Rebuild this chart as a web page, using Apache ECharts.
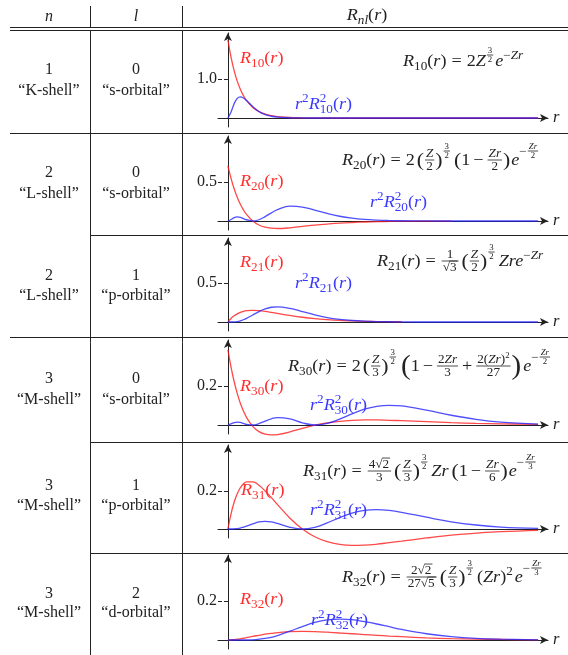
<!DOCTYPE html>
<html>
<head>
<meta charset="utf-8">
<script src="https://cdn.jsdelivr.net/npm/echarts@6/dist/echarts.min.js"></script>
<style>
  html, body { margin: 0; padding: 0; background: #fff; }
  #chart { width: 568px; height: 655px; }
</style>
</head>
<body>
<div id="chart"></div>
<script>
// Radial sample points (in Bohr radii) shared by every panel
const radius = [0, 0.25, 0.5, 0.75, 1, 1.25, 1.5, 2, 2.5, 3, 3.5, 4, 5, 6, 7, 8, 9, 10, 11, 12, 13, 14, 16, 18, 20, 22, 25];

// Radial wave functions R_nl(r) and radial densities r^2 R_nl^2(r)
const r10        = [2.000, 1.558, 1.213, 0.945, 0.736, 0.573, 0.446, 0.271, 0.164, 0.100, 0.060, 0.037, 0.013, 0.005, 0.002, 0.001, 0, 0, 0, 0, 0, 0, 0, 0, 0, 0, 0];
const r10Density = [0, 0.152, 0.368, 0.502, 0.541, 0.513, 0.448, 0.293, 0.168, 0.089, 0.045, 0.021, 0.005, 0.001, 0, 0, 0, 0, 0, 0, 0, 0, 0, 0, 0, 0, 0];

const r20        = [0.707, 0.546, 0.413, 0.304, 0.214, 0.142, 0.084, 0, -0.051, -0.079, -0.092, -0.096, -0.087, -0.070, -0.053, -0.039, -0.027, -0.019, -0.013, -0.009, -0.006, -0.004, -0.002, -0.001, null, null, null];
const r20Density = [0, 0.019, 0.043, 0.052, 0.046, 0.031, 0.016, 0, 0.016, 0.056, 0.104, 0.147, 0.190, 0.179, 0.140, 0.097, 0.061, 0.036, 0.020, 0.011, 0.006, 0.003, 0.001, 0, 0, 0, 0];

const r21        = [0, 0.045, 0.079, 0.105, 0.124, 0.137, 0.145, 0.150, 0.146, 0.137, 0.124, 0.110, 0.084, 0.061, 0.043, 0.030, 0.020, 0.014, 0.009, 0.006, 0.004, 0.003, null, null, null, null, null];
const r21Density = [0, 0, 0.002, 0.006, 0.015, 0.029, 0.047, 0.090, 0.134, 0.168, 0.189, 0.195, 0.175, 0.134, 0.091, 0.057, 0.034, 0.019, 0.010, 0.005, 0.003, 0.001, 0, 0, 0, 0, 0];

const r30        = [0.385, 0.297, 0.223, 0.162, 0.112, 0.072, 0.039, -0.007, -0.034, -0.047, -0.051, -0.049, -0.035, -0.017, -0.001, 0.011, 0.019, 0.024, 0.026, 0.026, 0.024, 0.022, 0.017, 0.012, 0.008, 0.006, 0.003];
const r30Density = [0, 0.006, 0.012, 0.015, 0.013, 0.008, 0.003, 0, 0.007, 0.020, 0.032, 0.038, 0.031, 0.011, 0, 0.008, 0.030, 0.057, 0.081, 0.096, 0.101, 0.098, 0.076, 0.050, 0.029, 0.015, 0.005];

const r31        = [0, 0.080, 0.141, 0.185, 0.217, 0.237, 0.248, 0.248, 0.230, 0.200, 0.165, 0.128, 0.057, 0, -0.041, -0.067, -0.081, -0.086, -0.085, -0.080, -0.072, -0.064, -0.047, -0.032, -0.022, -0.014, -0.007];
const r31Density = [0, 0, 0.001, 0.002, 0.005, 0.010, 0.015, 0.027, 0.037, 0.040, 0.037, 0.029, 0.009, 0, 0.009, 0.032, 0.060, 0.083, 0.098, 0.102, 0.098, 0.088, 0.062, 0.038, 0.021, 0.010, 0.003];

const r32        = [0, 0.001, 0.002, 0.004, 0.006, 0.009, 0.012, 0.019, 0.024, 0.030, 0.034, 0.038, 0.043, 0.044, 0.043, 0.040, 0.036, 0.032, 0.028, 0.024, 0.020, 0.017, 0.011, 0.007, 0.005, 0.003, 0.001];
const r32Density = [0, 0, 0, 0, 0, 0, 0, 0.001, 0.004, 0.008, 0.014, 0.023, 0.045, 0.069, 0.090, 0.103, 0.107, 0.104, 0.094, 0.082, 0.068, 0.054, 0.032, 0.017, 0.008, 0.004, 0.001];

// Table columns
const shellN      = ['1', '2', '2', '3', '3', '3'];
const shellName   = ['“K-shell”', '“L-shell”', '“L-shell”', '“M-shell”', '“M-shell”', '“M-shell”'];
const orbitalL    = ['0', '0', '1', '0', '1', '2'];
const orbitalName = ['“s-orbital”', '“s-orbital”', '“p-orbital”', '“s-orbital”', '“p-orbital”', '“d-orbital”'];
const subscripts  = ['10', '20', '21', '30', '31', '32'];
const tickValues  = [1.0, 0.5, 0.5, 0.2, 0.2, 0.2];

const curveSets = [[r10, r10Density], [r20, r20Density], [r21, r21Density],
                   [r30, r30Density], [r31, r31Density], [r32, r32Density]];

// ---------- layout & style ----------
const INK = '#222';
const RED = '#ff1a1a';
const BLUE = '#2323ff';
const RED_TEXT = '#ff2e2e';
const BLUE_TEXT = '#3a3aff';
const SERIF = '"Liberation Serif", "DejaVu Serif", serif';
const S = 16.5, SC = 12, SS = 8;
const HS = 1.1;          // horizontal stretch applied to math glyphs

// panel geometry: top of y-axis arrow, pixel row of r-axis, pixels per tick step
const panels = [
  { top: 33,  axisY: 118, tickPx: 39, textY: [70, 91],   formula: [403, 62],  redLabel: [240, 59],  blueLabel: [295, 105] },
  { top: 136, axisY: 221, tickPx: 39, textY: [173, 194], formula: [342, 161], redLabel: [240, 182], blueLabel: [370, 203] },
  { top: 238, axisY: 322, tickPx: 39, textY: [276, 296], formula: [377, 262], redLabel: [240, 263], blueLabel: [295, 284] },
  { top: 340, axisY: 425, tickPx: 39, textY: [379, 400], formula: [288, 367], redLabel: [240, 387], blueLabel: [310, 406] },
  { top: 445, axisY: 529, tickPx: 38, textY: [486, 506], formula: [303, 472], redLabel: [241, 491], blueLabel: [310, 511] },
  { top: 555, axisY: 640, tickPx: 39, textY: [594, 613], formula: [342, 578], redLabel: [240, 600], blueLabel: [311, 621] }
];
const AXIS_LEFT = 218, AXIS_RIGHT = 548, BELOW = 9;
const R_MIN = -0.8, R_MAX = 25.8;

// ---------- small math typesetter on top of graphic text ----------
const mctx = document.createElement('canvas').getContext('2d');
function measure(str, size, italic) {
  mctx.font = (italic ? 'italic ' : '') + size + 'px ' + SERIF;
  return mctx.measureText(str).width;
}
function T(str, size, italic) {
  const w = measure(str, size, italic) * HS;
  return {
    w,
    draw(x, y, out, fill) {
      out.push({
        type: 'text', x, y, scaleX: HS, originX: 0, originY: 0, silent: true, z: 50,
        style: {
          text: str, fontSize: size, fontFamily: SERIF,
          fontStyle: italic ? 'italic' : 'normal', fill,
          align: 'left', verticalAlign: 'middle',
          textAlign: 'left', textVerticalAlign: 'middle'
        }
      });
    }
  };
}
function H(...items) {
  const w = items.reduce((a, b) => a + b.w, 0);
  return {
    w,
    draw(x, y, out, fill) {
      let cx = x;
      items.forEach(b => { b.draw(cx, y, out, fill); cx += b.w; });
    }
  };
}
function Gap(w) { return { w, draw() {} }; }
function Shift(box, dy) {
  return { w: box.w, draw(x, y, out, fill) { box.draw(x, y + dy, out, fill); } };
}
function SubSup(lo, hi, dLo, dHi) {
  return {
    w: Math.max(lo.w, hi.w),
    draw(x, y, out, fill) { lo.draw(x, y + dLo, out, fill); hi.draw(x, y + dHi, out, fill); }
  };
}
function Frac(num, den, fs) {
  const inner = Math.max(num.w, den.w) + 2;
  return {
    w: inner + 2,
    draw(x, y, out, fill) {
      const bar = y - 1;
      num.draw(x + 1 + (inner - num.w) / 2, bar - 0.5 * fs, out, fill);
      den.draw(x + 1 + (inner - den.w) / 2, bar + 0.58 * fs, out, fill);
      out.push({ type: 'line', silent: true, z: 50,
        shape: { x1: x + 1, y1: bar, x2: x + 1 + inner, y2: bar },
        style: { stroke: fill, lineWidth: 0.8 } });
    }
  };
}
function Sqrt(box, fs) {
  const g = T('√', fs, false);
  return {
    w: g.w + box.w + 1,
    draw(x, y, out, fill) {
      g.draw(x, y, out, fill);
      box.draw(x + g.w, y, out, fill);
      const top = y - 0.58 * fs;
      out.push({ type: 'line', silent: true, z: 50,
        shape: { x1: x + g.w - 0.5, y1: top, x2: x + g.w + box.w + 1, y2: top },
        style: { stroke: fill, lineWidth: 0.8 } });
    }
  };
}
const it = (t, z = S) => T(t, z, true);
const up = (t, z = S) => T(t, z, false);
const sub = b => Shift(b, 0.3 * S);
const sup = (b, d = -0.4 * S) => Shift(b, d);
const paren = (c, z = S * 1.2) => up(c, z);
const bin = c => H(Gap(3), up(c), Gap(3));
const eq = () => H(Gap(5), up('='), Gap(5));
const rnl = k => H(it('R'), sub(up(k, SC)), up('('), it('r'), up(')'));
const threeHalves = d => sup(Frac(up('3', SS), up('2', SS), SS), d);
const zOver = d => Frac(it('Z', SC), up(d, SC), SC);
const expFrac = d => sup(H(up('−', SC), Frac(it('Zr', SS), up(d, SS), SS)), -9);
const density = (k, squared) => H(
  it('r'), sup(up('2', SC), -6), it('R'),
  squared ? SubSup(up(k, SC), up('2', SC), 0.3 * S, -0.4 * S) : sub(up(k, SC)),
  up('('), it('r'), up(')')
);

const formulas = [
  H(rnl('10'), eq(), up('2'), it('Z'), threeHalves(-6), Gap(1), it('e'),
    sup(H(up('−', SC), it('Zr', SC)), -6.5)),
  H(rnl('20'), eq(), up('2'), Gap(2), paren('('), zOver('2'), paren(')'), threeHalves(-9), Gap(3),
    paren('('), up('1'), bin('−'), Frac(it('Zr', SC), up('2', SC), SC), paren(')'),
    Gap(1), it('e'), expFrac('2')),
  H(rnl('21'), eq(), Frac(up('1', SC), Sqrt(up('3', SC), SC), SC), Gap(2), paren('('), zOver('2'), paren(')'),
    threeHalves(-9), Gap(3), it('Zre'), sup(H(up('−', SC), it('Zr', SC)), -6.5)),
  H(rnl('30'), eq(), up('2'), Gap(2), paren('('), zOver('3'), paren(')'), threeHalves(-9), Gap(4),
    paren('(', S * 1.6), up('1'), bin('−'),
    Frac(H(up('2', SC), it('Zr', SC)), up('3', SC), SC), bin('+'),
    Frac(H(up('2(', SC), it('Zr', SC), up(')', SC), Shift(up('2', SS), -4)), up('27', SC), SC),
    paren(')', S * 1.6), Gap(2), it('e'), expFrac('2')),
  H(rnl('31'), eq(), Frac(H(up('4', SC), Sqrt(up('2', SC), SC)), up('3', SC), SC), Gap(2),
    paren('('), zOver('3'), paren(')'), threeHalves(-9), Gap(3), it('Zr'), Gap(3),
    paren('('), up('1'), bin('−'), Frac(it('Zr', SC), up('6', SC), SC), paren(')'),
    Gap(1), it('e'), expFrac('3')),
  H(rnl('32'), eq(), Frac(H(up('2', SC), Sqrt(up('2', SC), SC)), H(up('27', SC), Sqrt(up('5', SC), SC)), SC),
    Gap(2), paren('('), zOver('3'), paren(')'), threeHalves(-9), Gap(3),
    up('('), it('Zr'), up(')'), sup(up('2', SC), -6.5), Gap(2), it('e'), expFrac('3'))
];

// ---------- graphic layer: table rules, cell text, formulas ----------
const elements = [];
function rule(x1, y1, x2, y2) {
  elements.push({ type: 'line', silent: true, z: 40,
    shape: { x1, y1, x2, y2 }, style: { stroke: INK, lineWidth: 1 } });
}
function cellText(str, x, y, italic) {
  elements.push({ type: 'text', x, y, silent: true, z: 50,
    style: { text: str, fontSize: 16, fontFamily: SERIF, fontStyle: italic ? 'italic' : 'normal',
      fill: INK, align: 'center', verticalAlign: 'middle', textAlign: 'center', textVerticalAlign: 'middle' } });
}
// vertical rules (broken by the double rule under the header)
[90.5, 182.5].forEach(x => { rule(x, 6, x, 27); rule(x, 30, x, 655); });
// horizontal rules
rule(10, 27.5, 568, 27.5);
rule(10, 30.5, 568, 30.5);
rule(10, 133.5, 568, 133.5);
rule(90, 235.5, 568, 235.5);
rule(10, 337.5, 568, 337.5);
rule(90, 442.5, 568, 442.5);
rule(90, 553.5, 568, 553.5);

// header
cellText('n', 49, 17, true);
cellText('l', 136, 17, true);
const header = H(it('R'), sub(it('nl', SC)), up('('), it('r'), up(')'));
header.draw(367 - header.w / 2, 16, elements, INK);

panels.forEach((p, i) => {
  cellText(shellN[i], 49, p.textY[0], false);
  cellText(shellName[i], 49, p.textY[1], false);
  cellText(orbitalL[i], 136, p.textY[0], false);
  cellText(orbitalName[i], 136, p.textY[1], false);
  formulas[i].draw(p.formula[0], p.formula[1], elements, INK);
  rnl(subscripts[i]).draw(p.redLabel[0], p.redLabel[1], elements, RED_TEXT);
  density(subscripts[i], i !== 2).draw(p.blueLabel[0], p.blueLabel[1], elements, BLUE_TEXT);
});

// ---------- grids, axes, series ----------
const grid = [], xAxis = [], yAxis = [], series = [];
panels.forEach((p, i) => {
  const tick = tickValues[i];
  const pxPerUnit = p.tickPx / tick;
  const yMin = -BELOW / pxPerUnit;
  const yMax = (p.axisY - p.top) / pxPerUnit;
  grid.push({ left: AXIS_LEFT, width: AXIS_RIGHT - AXIS_LEFT, top: p.top, height: p.axisY + BELOW - p.top });
  xAxis.push({
    gridIndex: i, type: 'value', min: R_MIN, max: R_MAX,
    axisLine: { onZero: true, symbol: ['none', 'arrow'], symbolSize: [6, 8], lineStyle: { color: INK, width: 1 } },
    axisTick: { show: false }, axisLabel: { show: false }, splitLine: { show: false },
    name: 'r', nameLocation: 'end', nameGap: 5,
    nameTextStyle: { fontFamily: SERIF, fontStyle: 'italic', fontSize: 16.5, color: INK }
  });
  yAxis.push({
    gridIndex: i, type: 'value', min: yMin, max: yMax,
    axisLine: { onZero: true, symbol: ['none', 'arrow'], symbolSize: [6, 8], lineStyle: { color: INK, width: 1 } },
    axisTick: { show: true, customValues: [tick], length: 4, lineStyle: { color: INK } },
    axisLabel: { customValues: [tick], formatter: v => v.toFixed(1), fontFamily: SERIF, fontSize: 16, color: INK, margin: 1 },
    splitLine: { show: false }
  });
  // inner half of the crossing tick mark
  yAxis.push({
    gridIndex: i, type: 'value', min: yMin, max: yMax, position: 'left',
    axisLine: { onZero: true, lineStyle: { opacity: 0 } },
    axisTick: { show: true, inside: true, customValues: [tick], length: 4, lineStyle: { color: INK } },
    axisLabel: { show: false }, splitLine: { show: false }
  });
  const [wave, dens] = curveSets[i];
  [[wave, RED], [dens, BLUE]].forEach(([vals, color]) => {
    series.push({
      type: 'line', xAxisIndex: i, yAxisIndex: 2 * i,
      data: radius.map((r, k) => [r, vals[k]]).filter(pt => pt[1] !== null),
      showSymbol: false, smooth: 0.4, clip: false, silent: true, z: 3,
      lineStyle: { color, width: 1.3, opacity: 0.8 }
    });
  });
});

const chart = echarts.init(document.getElementById('chart'), null, { renderer: 'canvas' });
chart.setOption({
  animation: false,
  backgroundColor: '#fff',
  grid, xAxis, yAxis, series,
  graphic: { elements }
});
</script>
</body>
</html>
